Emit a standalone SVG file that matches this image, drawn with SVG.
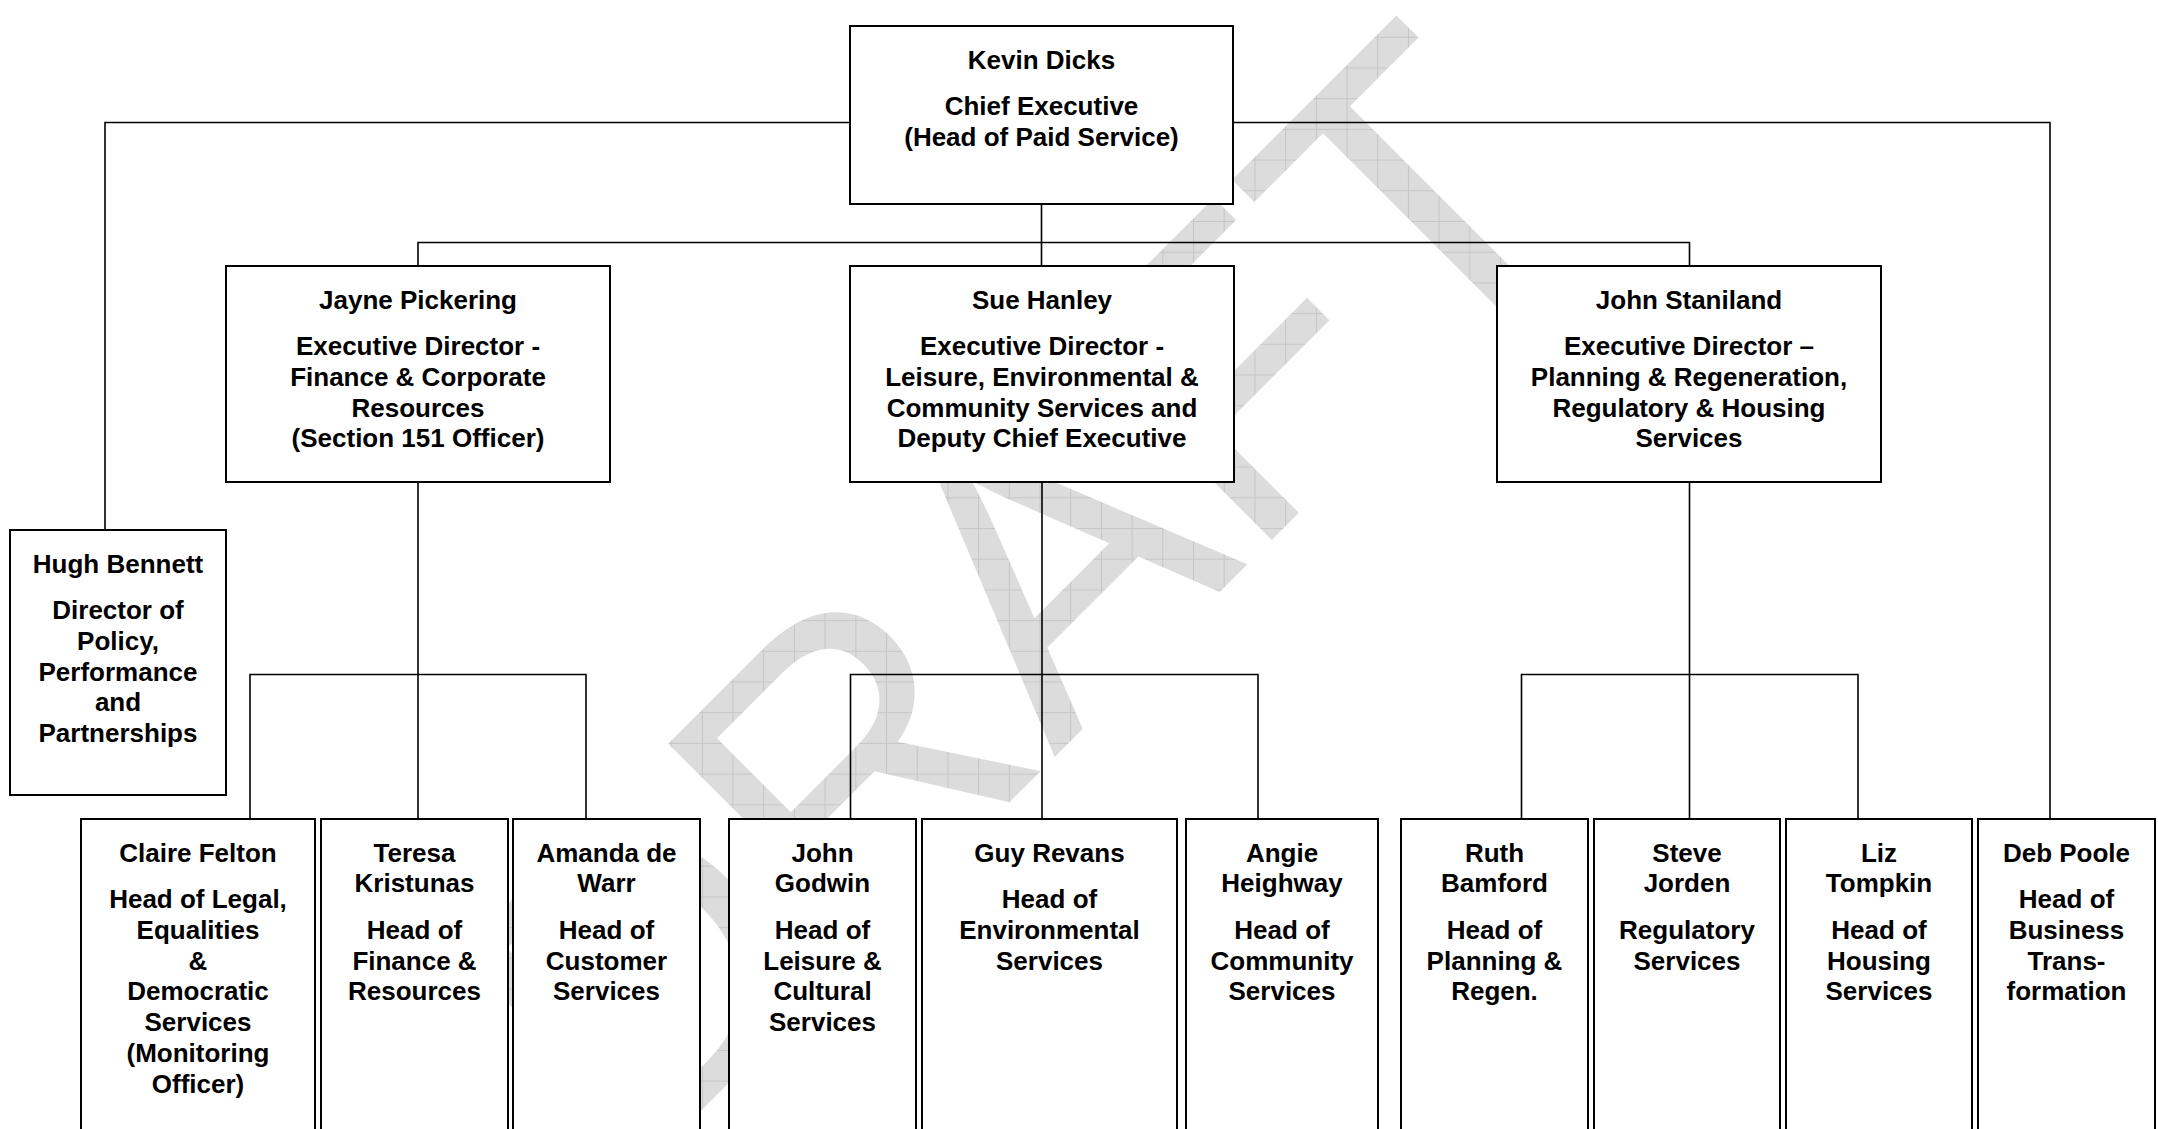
<svg xmlns="http://www.w3.org/2000/svg" width="2158" height="1129" viewBox="0 0 2158 1129">
<style>
.box{fill:#fff;stroke:#000;stroke-width:2}
.lbl{font-family:"Liberation Sans",Arial,sans-serif;font-weight:bold;font-size:26px;fill:#000;text-anchor:middle}
.con{fill:none;stroke:#000;stroke-width:1.6}
.wm{font-family:"Liberation Sans",Arial,sans-serif;font-size:411px;fill:url(#grid)}
</style>
<defs>
<pattern id="grid" patternUnits="userSpaceOnUse" x="26.4" y="6.1" width="30.7" height="30.7" patternTransform="rotate(45 634.4 1177.4)">
<rect width="30.7" height="30.7" fill="#dcdcdc"/>
<path d="M0.5 0V30.7M0 0.5H30.7" stroke="#c6c6c6" stroke-width="1"/>
</pattern>
</defs>
<rect width="2158" height="1129" fill="#fff"/>
<text class="wm" x="634.4" y="1177.4" transform="rotate(-45 634.4 1177.4)">DRAFT</text>
<g id="connectors">
<path class="con" d="M850 122.5H105V530"/>
<path class="con" d="M1233 122.5H2050V819"/>
<path class="con" d="M1041.5 204V266M418 266V242.5H1689.5V266"/>
<path class="con" d="M418 482V819M250 819V674.5H586V819"/>
<path class="con" d="M1042 482V819M850.5 819V674.5H1258V819"/>
<path class="con" d="M1689.5 482V819M1521.5 819V674.5H1858V819"/>
</g>
<g id="kevin-dicks"><rect class="box" x="850" y="26" width="383" height="178"/>
<text class="lbl"><tspan x="1041.5" y="68.5">Kevin Dicks</tspan><tspan x="1041.5" y="115">Chief Executive</tspan><tspan x="1041.5" y="145.8">(Head of Paid Service)</tspan></text></g>
<g id="jayne-pickering"><rect class="box" x="226" y="266" width="384" height="216"/>
<text class="lbl"><tspan x="418" y="308.5">Jayne Pickering</tspan><tspan x="418" y="355">Executive Director -</tspan><tspan x="418" y="385.8">Finance &amp; Corporate</tspan><tspan x="418" y="416.6">Resources</tspan><tspan x="418" y="447.4">(Section 151 Officer)</tspan></text></g>
<g id="sue-hanley"><rect class="box" x="850" y="266" width="384" height="216"/>
<text class="lbl"><tspan x="1042" y="308.5">Sue Hanley</tspan><tspan x="1042" y="355">Executive Director -</tspan><tspan x="1042" y="385.8">Leisure, Environmental &amp;</tspan><tspan x="1042" y="416.6">Community Services and</tspan><tspan x="1042" y="447.4">Deputy Chief Executive</tspan></text></g>
<g id="john-staniland"><rect class="box" x="1497" y="266" width="384" height="216"/>
<text class="lbl"><tspan x="1689" y="308.5">John Staniland</tspan><tspan x="1689" y="355">Executive Director –</tspan><tspan x="1689" y="385.8">Planning &amp; Regeneration,</tspan><tspan x="1689" y="416.6">Regulatory &amp; Housing</tspan><tspan x="1689" y="447.4">Services</tspan></text></g>
<g id="hugh-bennett"><rect class="box" x="10" y="530" width="216" height="265"/>
<text class="lbl"><tspan x="118" y="572.5">Hugh Bennett</tspan><tspan x="118" y="619">Director of</tspan><tspan x="118" y="649.8">Policy,</tspan><tspan x="118" y="680.6">Performance</tspan><tspan x="118" y="711.4">and</tspan><tspan x="118" y="742.2">Partnerships</tspan></text></g>
<g id="claire-felton"><rect class="box" x="81" y="819" width="234" height="330"/>
<text class="lbl"><tspan x="198" y="861.5">Claire Felton</tspan><tspan x="198" y="908">Head of Legal,</tspan><tspan x="198" y="938.8">Equalities</tspan><tspan x="198" y="969.6">&amp;</tspan><tspan x="198" y="1000.4">Democratic</tspan><tspan x="198" y="1031.2">Services</tspan><tspan x="198" y="1062">(Monitoring</tspan><tspan x="198" y="1092.8">Officer)</tspan></text></g>
<g id="teresa-kristunas"><rect class="box" x="321" y="819" width="187" height="330"/>
<text class="lbl"><tspan x="414.5" y="861.5">Teresa</tspan><tspan x="414.5" y="892.3">Kristunas</tspan><tspan x="414.5" y="938.8">Head of</tspan><tspan x="414.5" y="969.6">Finance &amp;</tspan><tspan x="414.5" y="1000.4">Resources</tspan></text></g>
<g id="amanda-de-warr"><rect class="box" x="513" y="819" width="187" height="330"/>
<text class="lbl"><tspan x="606.5" y="861.5">Amanda de</tspan><tspan x="606.5" y="892.3">Warr</tspan><tspan x="606.5" y="938.8">Head of</tspan><tspan x="606.5" y="969.6">Customer</tspan><tspan x="606.5" y="1000.4">Services</tspan></text></g>
<g id="john-godwin"><rect class="box" x="729" y="819" width="187" height="330"/>
<text class="lbl"><tspan x="822.5" y="861.5">John</tspan><tspan x="822.5" y="892.3">Godwin</tspan><tspan x="822.5" y="938.8">Head of</tspan><tspan x="822.5" y="969.6">Leisure &amp;</tspan><tspan x="822.5" y="1000.4">Cultural</tspan><tspan x="822.5" y="1031.2">Services</tspan></text></g>
<g id="guy-revans"><rect class="box" x="922" y="819" width="255" height="330"/>
<text class="lbl"><tspan x="1049.5" y="861.5">Guy Revans</tspan><tspan x="1049.5" y="908">Head of</tspan><tspan x="1049.5" y="938.8">Environmental</tspan><tspan x="1049.5" y="969.6">Services</tspan></text></g>
<g id="angie-heighway"><rect class="box" x="1186" y="819" width="192" height="330"/>
<text class="lbl"><tspan x="1282" y="861.5">Angie</tspan><tspan x="1282" y="892.3">Heighway</tspan><tspan x="1282" y="938.8">Head of</tspan><tspan x="1282" y="969.6">Community</tspan><tspan x="1282" y="1000.4">Services</tspan></text></g>
<g id="ruth-bamford"><rect class="box" x="1401" y="819" width="187" height="330"/>
<text class="lbl"><tspan x="1494.5" y="861.5">Ruth</tspan><tspan x="1494.5" y="892.3">Bamford</tspan><tspan x="1494.5" y="938.8">Head of</tspan><tspan x="1494.5" y="969.6">Planning &amp;</tspan><tspan x="1494.5" y="1000.4">Regen.</tspan></text></g>
<g id="steve-jorden"><rect class="box" x="1594" y="819" width="186" height="330"/>
<text class="lbl"><tspan x="1687" y="861.5">Steve</tspan><tspan x="1687" y="892.3">Jorden</tspan><tspan x="1687" y="938.8">Regulatory</tspan><tspan x="1687" y="969.6">Services</tspan></text></g>
<g id="liz-tompkin"><rect class="box" x="1786" y="819" width="186" height="330"/>
<text class="lbl"><tspan x="1879" y="861.5">Liz</tspan><tspan x="1879" y="892.3">Tompkin</tspan><tspan x="1879" y="938.8">Head of</tspan><tspan x="1879" y="969.6">Housing</tspan><tspan x="1879" y="1000.4">Services</tspan></text></g>
<g id="deb-poole"><rect class="box" x="1978" y="819" width="177" height="330"/>
<text class="lbl"><tspan x="2066.5" y="861.5">Deb Poole</tspan><tspan x="2066.5" y="908">Head of</tspan><tspan x="2066.5" y="938.8">Business</tspan><tspan x="2066.5" y="969.6">Trans-</tspan><tspan x="2066.5" y="1000.4">formation</tspan></text></g>
</svg>
